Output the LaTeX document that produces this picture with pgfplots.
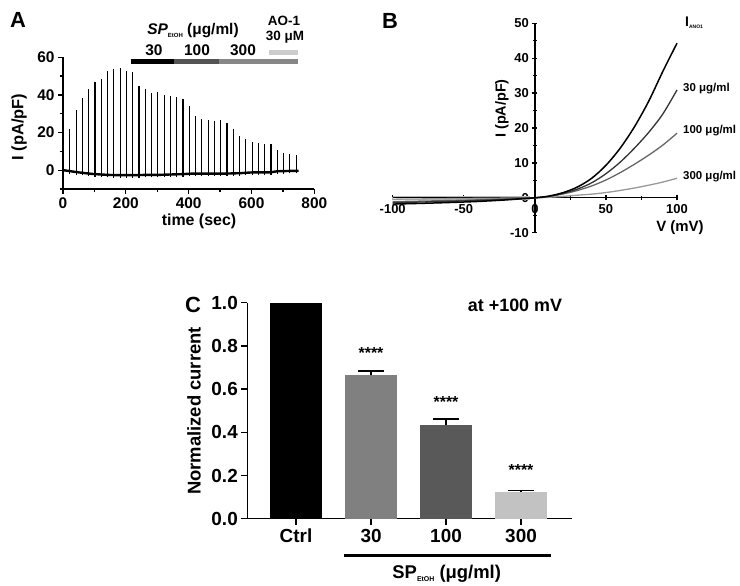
\documentclass[border=0pt]{standalone}
\usepackage{pgfplots}
\pgfplotsset{compat=1.18}
\usepackage{fontspec}
\setmainfont{Liberation Sans}
\definecolor{barA}{gray}{0.0}
\definecolor{barB}{gray}{0.33}
\definecolor{barC}{gray}{0.53}
\definecolor{barD}{gray}{0.80}
\definecolor{cB30}{gray}{0.20}
\definecolor{cB100}{gray}{0.40}
\definecolor{cB300}{gray}{0.60}
\definecolor{cC30}{gray}{0.50}
\definecolor{cC100}{gray}{0.35}
\definecolor{cC300}{gray}{0.76}
\newcommand{\fs}[1]{\fontsize{#1}{#1}\selectfont\bfseries}
\newcommand{\sub}[2]{\raisebox{-0.3ex}{\fontsize{#1}{#1}\selectfont #2}}
\pgfplotsset{every axis/.append style={
  scale only axis, anchor=south west,
  axis line style={line width=1.3bp, black},
  every tick/.style={line width=1.3bp, black},
  major tick length=5bp, minor tick length=3.5bp,
  tick align=outside,
  /pgf/number format/assume math mode=true,
}}
\begin{document}
\begin{tikzpicture}[x=1bp,y=1bp]
% ---------------- Panel A ----------------
\begin{axis}[at={(63bp,397bp)}, width=251.3bp, height=131.7bp,
  xmin=0, xmax=800, ymin=-10, ymax=60,
  axis x line*=bottom, axis y line*=left,
  xtick={0,200,400,600,800}, minor xtick={100,300,500,700},
  ytick={0,20,40,60}, minor ytick={-10,10,30,50},
  tick label style={font=\fs{15.5}},
  clip=false, unbounded coords=jump]
\addplot[black, line width=1.1bp] coordinates {
(0,-0.8)(0,11.3)(0,nan)
(22,-1.8)(22,21.8)(22,nan)
(42,-2.3)(42,32)(42,nan)
(62,-2.7)(62,38.4)(62,nan)
(82,-3.1)(82,43)(82,nan)
(102,-3.4)(102,46.9)(102,nan)
(122,-3.6)(122,48.5)(122,nan)
(142,-3.8)(142,52.9)(142,nan)
(162,-3.9)(162,53.8)(162,nan)
(182,-3.95)(182,54.5)(182,nan)
(202,-3.95)(202,52.9)(202,nan)
(222,-3.9)(222,52.2)(222,nan)
(242,-3.9)(242,45)(242,nan)
(262,-3.8)(262,43)(262,nan)
(282,-3.8)(282,41.2)(282,nan)
(302,-3.8)(302,41.4)(302,nan)
(322,-3.7)(322,40)(322,nan)
(342,-3.6)(342,39.5)(342,nan)
(362,-3.5)(362,38.9)(362,nan)
(382,-3.4)(382,38)(382,nan)
(402,-3.2)(402,34)(402,nan)
(422,-3.1)(422,28.7)(422,nan)
(442,-3.1)(442,27.4)(442,nan)
(462,-3.1)(462,26.5)(462,nan)
(482,-3.1)(482,26.2)(482,nan)
(502,-3.1)(502,26.5)(502,nan)
(522,-3.1)(522,25.3)(522,nan)
(542,-3.0)(542,22)(542,nan)
(562,-2.9)(562,18.2)(562,nan)
(582,-2.7)(582,16.8)(582,nan)
(602,-2.5)(602,15)(602,nan)
(622,-2.5)(622,14.5)(622,nan)
(642,-2.5)(642,14)(642,nan)
(662,-2.4)(662,14)(662,nan)
(682,-1.9)(682,10.6)(682,nan)
(702,-1.8)(702,9.2)(702,nan)
(722,-1.7)(722,8.5)(722,nan)
(742,-1.7)(742,8.1)(742,nan)
};
\addplot[black, line width=2.4bp, smooth] coordinates {
(0,0)(22,-0.5)(42,-1.0)(62,-1.4)(82,-1.8)(102,-2.1)(122,-2.3)(142,-2.5)
(162,-2.6)(182,-2.65)(202,-2.65)(222,-2.6)(242,-2.6)(262,-2.5)(282,-2.5)
(302,-2.5)(322,-2.4)(342,-2.3)(362,-2.2)(382,-2.1)(402,-1.9)(422,-1.8)
(442,-1.8)(462,-1.8)(482,-1.8)(502,-1.8)(522,-1.8)(542,-1.7)(562,-1.6)
(582,-1.4)(602,-1.2)(622,-1.2)(642,-1.2)(662,-1.1)(682,-0.6)(702,-0.5)
(722,-0.4)(742,-0.4)(750,-0.3)
};
% application bars
\addplot[barA, line width=5bp] coordinates {(215,57.9)(354,57.9)};
\addplot[barB, line width=5bp] coordinates {(354,57.9)(496,57.9)};
\addplot[barC, line width=5bp] coordinates {(496,57.9)(749,57.9)};
\addplot[barD, line width=5bp] coordinates {(656,62.4)(749,62.4)};
\end{axis}
\node[font=\fs{15.5}] at (154,536) {30};
\node[font=\fs{15.5}] at (197,536) {100};
\node[font=\fs{15.5}] at (243,536) {300};
\node[font=\fs{15.5}] at (193,555) {\textit{SP}\sub{6}{EtOH} (μg/ml)};
\node[font=\fs{13.5}, inner sep=0pt] at (284,565.5) {AO-1};
\node[font=\fs{13.5}, inner sep=0pt] at (285,549) {30 μM};
\node[font=\fs{16}] at (199,364.5) {time (sec)};
\node[font=\fs{16.5}, rotate=90] at (19,459) {I (pA/pF)};
\node[font=\fs{22}] at (18,566) {A};
% ---------------- Panel B ----------------
\begin{axis}[at={(392.7bp,353.3bp)}, width=284.3bp, height=209.4bp,
  xmin=-100, xmax=100, ymin=-10, ymax=50,
  axis lines=middle, axis line style={-},
  xtick={-100,-50,0,50,100}, minor xtick={-75,-25,25,75},
  ytick={-10,0,10,20,30,40,50}, minor ytick={-5,5,15,25,35,45},
  hide obscured x ticks=false, hide obscured y ticks=false,
  tick label style={font=\fs{13}},
  xticklabel style={yshift=-1bp},
  clip=false]
\addplot[gray!55, line width=0.9bp] coordinates {(-100,0.35)(-4,0.35)(-4,-0.6)(-100,-0.6)(-100,0.35)};
\addplot[cB300, line width=1.3bp, smooth] coordinates {
(-100,-0.4)(-50,-0.2)(0,0)(10,0.15)(20,0.4)(30,0.75)(40,1.05)(50,1.5)(60,2.1)(70,2.8)(80,3.6)(90,4.5)(100,5.6)};
\addplot[cB100, line width=1.3bp, smooth] coordinates {
(-100,-1.1)(-50,-0.7)(-20,-0.3)(0,0)(10,0.4)(20,1.1)(30,2.1)(40,3.4)(50,5.1)(60,7.2)(70,9.6)(80,12.2)(90,15.1)(100,18.5)};
\addplot[cB30, line width=1.3bp, smooth] coordinates {
(-100,-1.4)(-50,-0.9)(-20,-0.45)(0,0)(10,0.4)(20,1.3)(30,2.5)(40,4.3)(50,6.9)(60,10.2)(70,14.2)(80,18.7)(90,24)(100,30.9)};
\addplot[black, line width=1.5bp, smooth] coordinates {
(-100,-1.8)(-80,-1.6)(-60,-1.35)(-40,-1.05)(-20,-0.6)(-10,-0.3)(0,0)(10,0.5)(20,1.5)(30,3.1)(40,5.6)(50,9.3)(60,14.2)(70,20.3)(80,27.6)(90,36.2)(100,44.3)};
\end{axis}
\node[font=\fs{14}, anchor=west, inner sep=0] at (685,563) {I\sub{5}{ANO1}};
\node[font=\fs{11.5}, anchor=west, inner sep=0] at (683,497) {30 μg/ml};
\node[font=\fs{11.5}, anchor=west, inner sep=0] at (683,455) {100 μg/ml};
\node[font=\fs{11.5}, anchor=west, inner sep=0] at (683,409) {300 μg/ml};
\node[font=\fs{15}] at (680,358) {V (mV)};
\node[font=\fs{14.5}, rotate=90] at (502,477.5) {I (pA/pF)};
\node[font=\fs{22}] at (390,565) {B};
% ---------------- Panel C ----------------
\begin{axis}[at={(247.3bp,67.3bp)}, width=324.4bp, height=216bp,
  xmin=-0.65, xmax=3.676, ymin=0, ymax=1,
  axis x line*=bottom, axis y line*=left,
  xtick={0,1,2,3}, xticklabels={Ctrl,30,100,300},
  ytick={0,0.2,0.4,0.6,0.8,1.0},
  yticklabel style={/pgf/number format/.cd, fixed, fixed zerofill, precision=1},
  tick label style={font=\fs{19}},
  xticklabel style={yshift=-1bp},
  major tick length=6bp,
  clip=false]
\addplot[ybar, bar width=52bp, bar shift=0pt, fill=black, draw=none] coordinates {(0,1)};
\addplot[ybar, bar width=52bp, bar shift=0pt, fill=cC30, draw=none,
  error bars/.cd, y dir=plus, y explicit,
  error bar style={line width=1.8bp, black},
  error mark options={rotate=90, mark size=13bp, line width=1.8bp, black}]
  coordinates {(1,0.664) +- (0,0.018)};
\addplot[ybar, bar width=52bp, bar shift=0pt, fill=cC100, draw=none,
  error bars/.cd, y dir=plus, y explicit,
  error bar style={line width=1.8bp, black},
  error mark options={rotate=90, mark size=13bp, line width=1.8bp, black}]
  coordinates {(2,0.434) +- (0,0.029)};
\addplot[ybar, bar width=52bp, bar shift=0pt, fill=cC300, draw=none,
  error bars/.cd, y dir=plus, y explicit,
  error bar style={line width=1.8bp, black},
  error mark options={rotate=90, mark size=13bp, line width=1.8bp, black}]
  coordinates {(3,0.125) +- (0,0.006)};
\node[font=\fs{16}, anchor=base] at (axis cs:1,0.74) {****};
\node[font=\fs{16}, anchor=base] at (axis cs:2,0.517) {****};
\node[font=\fs{16}, anchor=base] at (axis cs:3,0.2) {****};
\end{axis}
\node[font=\fs{18}] at (515,281) {at +100 mV};
\draw[line width=2.4bp] (344,30.3) -- (551,30.3);
\node[font=\fs{18.5}] at (446.7,12) {SP\sub{7}{EtOH} (μg/ml)};
\node[font=\fs{18.5}, rotate=90] at (194,175) {Normalized current};
\node[font=\fs{22}] at (193,281) {C};
\pgfresetboundingbox
\useasboundingbox (0,0) rectangle (740,586);
\end{tikzpicture}
\end{document}
